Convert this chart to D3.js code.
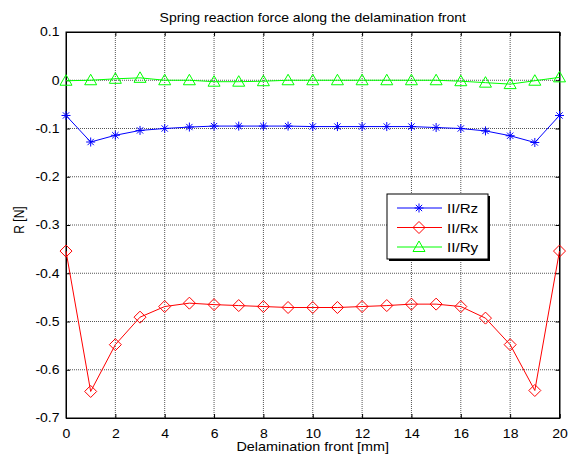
<!DOCTYPE html>
<html>
<head>
<meta charset="utf-8">
<script src="https://cdn.jsdelivr.net/npm/d3@7"></script>
<style>
  body { margin: 0; background: #fff; }
  svg { font-family: "Liberation Sans", Arial, sans-serif; }
</style>
</head>
<body>
<div id="chart"></div>
<script>
// data
var positions = d3.range(0, 21);
var rz = [-0.073, -0.128, -0.114, -0.104, -0.100, -0.097, -0.095, -0.095, -0.095, -0.095, -0.096,
  -0.096, -0.096, -0.096, -0.096, -0.098, -0.100, -0.105, -0.115, -0.129, -0.073];
var rx = [-0.354, -0.645, -0.548, -0.491, -0.469, -0.462, -0.465, -0.467, -0.469, -0.471, -0.471,
  -0.471, -0.469, -0.467, -0.464, -0.464, -0.469, -0.493, -0.548, -0.643, -0.354];
var ry = [-0.001, 0.000, 0.003, 0.005, 0.000, 0.000, -0.003, -0.003, -0.002, 0.000, 0.000,
  0.000, 0.000, 0.000, 0.000, 0.000, -0.002, -0.005, -0.008, -0.001, 0.006];
var xTicks = [0, 2, 4, 6, 8, 10, 12, 14, 16, 18, 20];
var yTicks = [0.1, 0, -0.1, -0.2, -0.3, -0.4, -0.5, -0.6, -0.7];
var seriesNames = ["II/Rz", "II/Rx", "II/Ry"];

var W = 568, H = 459;
var margin = { top: 32, right: 8.5, bottom: 41, left: 66 };
var width = W - margin.left - margin.right,
  height = H - margin.top - margin.bottom;
// the original picture is stretched sideways, so text is too
var stretch = "scale(1.17,1)";

var svg = d3.select("#chart").append("svg")
  .attr("width", W).attr("height", H);
var g = svg.append("g")
  .attr("transform", "translate(" + margin.left + "," + margin.top + ")");

var x = d3.scaleLinear().domain([0, 20]).range([0, width]);
var y = d3.scaleLinear().domain([-0.7, 0.1]).range([height, 0]);

// grid
g.append("g").selectAll("line").data(xTicks.slice(1, -1)).enter().append("line")
  .attr("x1", d => x(d)).attr("x2", d => x(d))
  .attr("y1", 0).attr("y2", height)
  .attr("stroke", "#555").attr("stroke-dasharray", "1,1");
g.append("g").selectAll("line").data(yTicks.slice(1, -1)).enter().append("line")
  .attr("y1", d => y(d)).attr("y2", d => y(d))
  .attr("x1", 0).attr("x2", width)
  .attr("stroke", "#555").attr("stroke-dasharray", "1,1");

// axes
var fmt = d => (d === 0 ? "0" : d.toFixed(1));
g.append("g")
  .attr("transform", "translate(0," + height + ")")
  .call(d3.axisBottom(x).tickValues(xTicks).tickSize(-4).tickPadding(11).tickFormat(d => d));
g.append("g")
  .attr("class", "yaxis")
  .call(d3.axisLeft(y).tickValues(yTicks).tickSize(-4).tickPadding(6).tickFormat(fmt));
g.append("g")
  .call(d3.axisTop(x).tickValues(xTicks).tickSize(-4).tickFormat(""));
g.append("g")
  .attr("transform", "translate(" + width + ",0)")
  .call(d3.axisRight(y).tickValues(yTicks).tickSize(-4).tickFormat(""));
g.selectAll(".domain").attr("stroke", "#000");
g.selectAll(".tick text").attr("font-size", 12).attr("fill", "#000")
  .attr("transform", stretch)
  .style("font-family", "Liberation Sans, Arial, sans-serif");
g.selectAll(".yaxis .tick text").attr("x", -5.5);
g.selectAll(".tick line").attr("stroke", "#000");

g.append("rect").attr("width", width).attr("height", height)
  .attr("fill", "none").attr("stroke", "#000");

// title and labels
svg.append("text")
  .attr("transform", "translate(" + (margin.left + width / 2) + ",22) " + stretch)
  .attr("text-anchor", "middle").attr("font-size", 12)
  .text("Spring reaction force along the delamination front");
svg.append("text")
  .attr("transform", "translate(" + (margin.left + width / 2) + ",451) " + stretch)
  .attr("text-anchor", "middle").attr("font-size", 12.3)
  .text("Delamination front [mm]");
svg.append("text")
  .attr("transform", "translate(24,220) rotate(-90) scale(1,1.17)")
  .attr("text-anchor", "middle").attr("font-size", 12)
  .text("R [N]");

// markers
function star(sel, color) {
  var s = 4.5;
  sel.append("path")
    .attr("d", "M" + (-s) + ",0H" + s + "M0," + (-s) + "V" + s +
      "M" + (-s * 0.7) + "," + (-s * 0.7) + "L" + (s * 0.7) + "," + (s * 0.7) +
      "M" + (-s * 0.7) + "," + (s * 0.7) + "L" + (s * 0.7) + "," + (-s * 0.7))
    .attr("stroke", color).attr("fill", "none");
}
function diamond(sel, color) {
  var s = 6;
  sel.append("path")
    .attr("d", "M0," + (-s) + "L" + s + ",0L0," + s + "L" + (-s) + ",0Z")
    .attr("stroke", color).attr("fill", "none");
}
function triangle(sel, color) {
  var s = 6;
  sel.append("path")
    .attr("d", "M0," + (-s) + "L" + s + "," + (s * 0.75) + "L" + (-s) + "," + (s * 0.75) + "Z")
    .attr("stroke", color).attr("fill", "none");
}

var series = [
  { name: seriesNames[0], values: rz, color: "#0000ff", marker: star },
  { name: seriesNames[1], values: rx, color: "#ff0000", marker: diamond },
  { name: seriesNames[2], values: ry, color: "#00ff00", marker: triangle }
];

var line = d3.line().x((d, i) => x(positions[i])).y(d => y(d));

series.forEach(function (s) {
  g.append("path").datum(s.values)
    .attr("d", line).attr("fill", "none").attr("stroke", s.color);
  g.selectAll(null).data(s.values).enter().append("g")
    .attr("transform", (d, i) => "translate(" + x(positions[i]) + "," + y(d) + ")")
    .each(function () { s.marker(d3.select(this), s.color); });
});

// legend
var lg = svg.append("g").attr("transform", "translate(387,194)");
lg.append("rect").attr("x", 2).attr("y", 2).attr("width", 101).attr("height", 65).attr("fill", "#000");
lg.append("rect").attr("width", 101).attr("height", 65).attr("fill", "#fff").attr("stroke", "#000");
series.forEach(function (s, i) {
  var ry0 = 14 + i * 19.5;
  lg.append("line").attr("x1", 10).attr("x2", 55).attr("y1", ry0).attr("y2", ry0)
    .attr("stroke", s.color);
  var m = lg.append("g").attr("transform", "translate(32," + ry0 + ")");
  s.marker(m, s.color);
  lg.append("text")
    .attr("transform", "translate(60," + (ry0 + 5) + ") " + stretch)
    .attr("font-size", 13).text(s.name);
});
</script>
</body>
</html>
